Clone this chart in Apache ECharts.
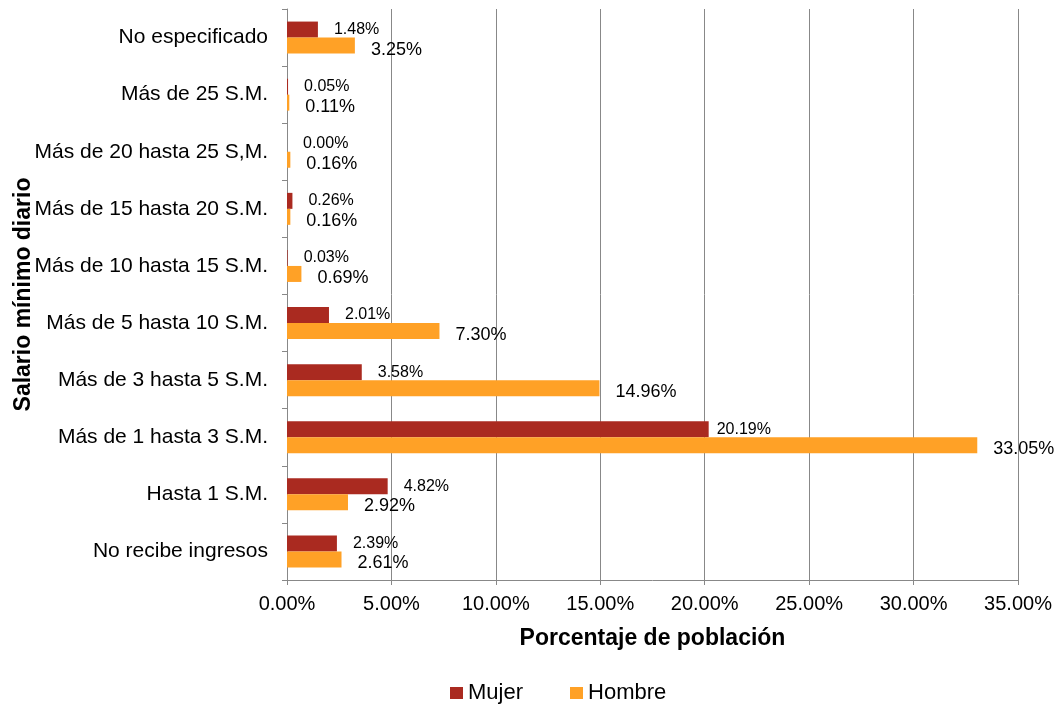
<!DOCTYPE html>
<html>
<head>
<meta charset="utf-8">
<script src="https://cdn.jsdelivr.net/npm/echarts@6/dist/echarts.min.js"></script>
<style>
  html, body { margin: 0; padding: 0; background: #fff; }
  #myChart { width: 1058px; height: 707px; }
</style>
</head>
<body>
<div id="myChart"></div>
<script>
// categories from bottom to top
const categories = [
  "No recibe ingresos",
  "Hasta 1 S.M.",
  "Más de 1 hasta 3 S.M.",
  "Más de 3 hasta 5 S.M.",
  "Más de 5 hasta 10 S.M.",
  "Más de 10 hasta 15 S.M.",
  "Más de 15 hasta 20 S.M.",
  "Más de 20 hasta 25 S,M.",
  "Más de 25 S.M.",
  "No especificado"
];
const mujer = [2.39, 4.82, 20.19, 3.58, 2.01, 0.03, 0.26, 0.00, 0.05, 1.48];
const hombre = [2.61, 2.92, 33.05, 14.96, 7.30, 0.69, 0.16, 0.16, 0.11, 3.25];
const xTicks = [0, 5, 10, 15, 20, 25, 30, 35];

const font = "'Liberation Sans', Arial, sans-serif";
const pct = (v) => Number(v).toFixed(2) + "%";

let myChart = echarts.init(document.getElementById("myChart"));
myChart.setOption({
  animation: false,
  textStyle: { fontFamily: font },
  grid: {
    left: 287,
    right: 40,
    top: 9,
    bottom: 127,
    containLabel: false,
    outerBoundsMode: "none",
  },
  legend: {
    data: ["Mujer", "Hombre"],
    left: 445,
    top: 677,
    itemWidth: 13,
    itemHeight: 12,
    itemGap: 47,
    icon: "rect",
    textStyle: { fontSize: 22, color: "#000", fontFamily: font },
  },
  xAxis: {
    type: "value",
    min: xTicks[0],
    max: xTicks[xTicks.length - 1],
    interval: 5,
    name: "Porcentaje de población",
    nameLocation: "middle",
    nameGap: 47,
    nameMoveOverlap: false,
    nameTextStyle: { fontSize: 23, fontWeight: "bold", color: "#000", fontFamily: font },
    axisLine: { show: true, lineStyle: { color: "#888", width: 1 } },
    axisTick: { show: true, length: 5, lineStyle: { color: "#888" } },
    axisLabel: {
      fontSize: 20,
      color: "#000",
      margin: 14,
      formatter: (v) => pct(v),
    },
    splitLine: { show: true, lineStyle: { color: "#888", width: 1 } },
  },
  yAxis: {
    type: "category",
    data: categories,
    name: "Salario mínimo diario",
    nameLocation: "middle",
    nameRotate: 90,
    nameGap: 252,
    nameMoveOverlap: false,
    nameTextStyle: { fontSize: 23, fontWeight: "bold", color: "#000", fontFamily: font },
    axisLine: { show: true, lineStyle: { color: "#888", width: 1 } },
    axisTick: { show: true, length: 5, lineStyle: { color: "#888" } },
    axisLabel: { fontSize: 21, color: "#000", margin: 19 },
    splitLine: { show: false },
  },
  series: [
    {
      name: "Mujer",
      type: "bar",
      data: mujer.map((v, i) => (i === 2 ? { value: v, label: { distance: 8 } } : v)),
      barGap: "0%",
      barCategoryGap: "44%",
      itemStyle: { color: "#AA2A20" },
      label: {
        show: true,
        position: "right",
        distance: 16,
        fontSize: 16,
        color: "#000",
        fontFamily: font,
        formatter: (p) => pct(p.value),
      },
    },
    {
      name: "Hombre",
      type: "bar",
      data: hombre,
      barGap: "0%",
      barCategoryGap: "44%",
      itemStyle: { color: "#FFA126" },
      label: {
        show: true,
        position: "right",
        distance: 16,
        offset: [0, 4],
        fontSize: 18,
        color: "#000",
        fontFamily: font,
        formatter: (p) => pct(p.value),
      },
    },
  ],
});
</script>
</body>
</html>
